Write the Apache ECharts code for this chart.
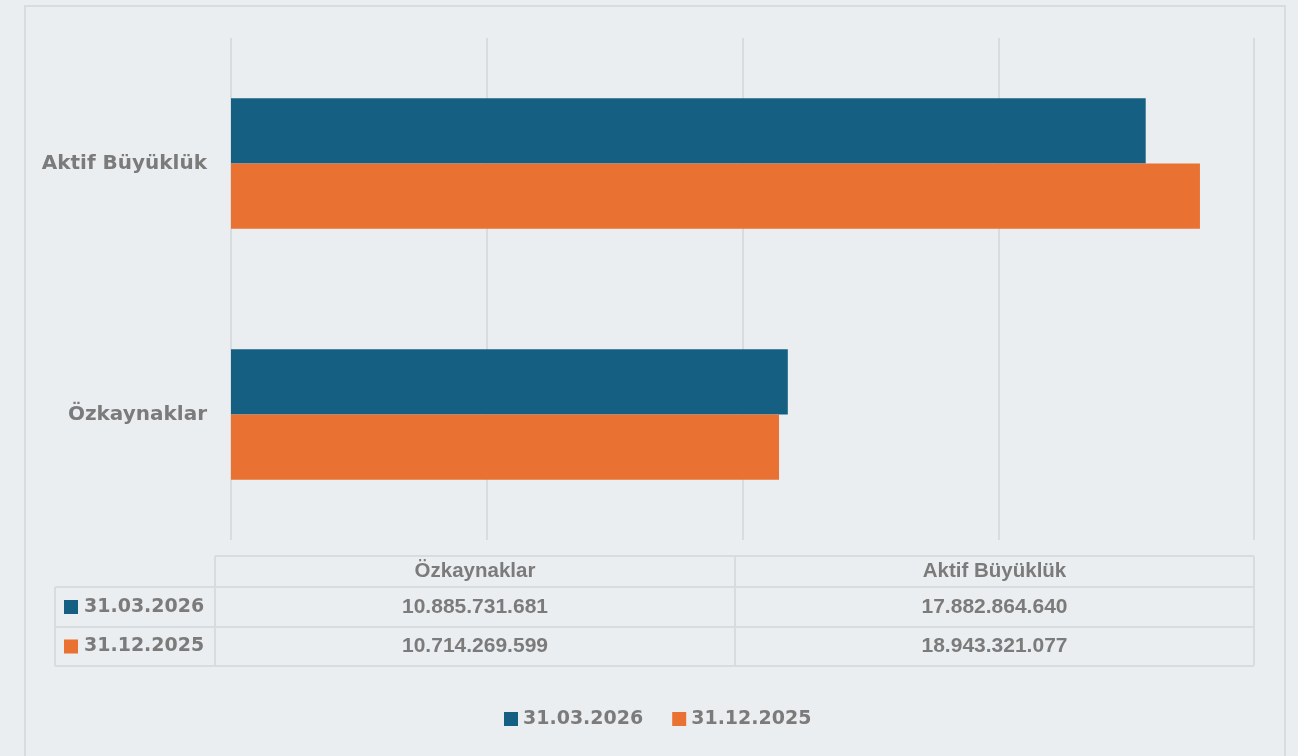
<!DOCTYPE html>
<html>
<head>
<meta charset="utf-8">
<script src="https://cdn.jsdelivr.net/npm/echarts@6/dist/echarts.min.js"></script>
<style>
  html, body { margin: 0; padding: 0; background: #ebeef0; }
  #chart { width: 1298px; height: 756px; }
</style>
</head>
<body>
<div id="chart"></div>
<script>
// categories, top to bottom
const categories = ['Aktif Büyüklük', 'Özkaynaklar'];
// table column order (as in the reference table)
const tableColumns = ['Özkaynaklar', 'Aktif Büyüklük'];
const seriesNames = ['31.03.2026', '31.12.2025'];
const values2026 = [17882864640, 10885731681];
const values2025 = [18943321077, 10714269599];
const colors = ['#156082', '#E97132'];

const textColor = '#7b7b7b';
const wideFont = '"DejaVu Sans", Verdana, sans-serif';
const tableFont = '"Liberation Sans", Arial, sans-serif';

const fmt = (v) => String(v).replace(/\B(?=(\d{3})+(?!\d))/g, '.');

const chart = echarts.init(document.getElementById('chart'));

// data table below the plot
const tbl = { x0: 55, x1: 215, x2: 735, x3: 1254, yHead: 556, yR1: 587, yR2: 627, yEnd: 666 };
const lineStyle = { stroke: '#d9dcdf', lineWidth: 2 };
const graphic = [
  // outer frame
  { type: 'rect', shape: { x: 25, y: 6, width: 1260, height: 760 }, style: { fill: null, stroke: '#d9dcdf', lineWidth: 2 }, silent: true },
  // horizontal lines
  { type: 'line', shape: { x1: tbl.x1, y1: tbl.yHead, x2: tbl.x3, y2: tbl.yHead }, style: lineStyle },
  { type: 'line', shape: { x1: tbl.x0, y1: tbl.yR1, x2: tbl.x3, y2: tbl.yR1 }, style: lineStyle },
  { type: 'line', shape: { x1: tbl.x0, y1: tbl.yR2, x2: tbl.x3, y2: tbl.yR2 }, style: lineStyle },
  { type: 'line', shape: { x1: tbl.x0, y1: tbl.yEnd, x2: tbl.x3, y2: tbl.yEnd }, style: lineStyle },
  // vertical lines
  { type: 'line', shape: { x1: tbl.x0, y1: tbl.yR1, x2: tbl.x0, y2: tbl.yEnd }, style: lineStyle },
  { type: 'line', shape: { x1: tbl.x1, y1: tbl.yHead, x2: tbl.x1, y2: tbl.yEnd }, style: lineStyle },
  { type: 'line', shape: { x1: tbl.x2, y1: tbl.yHead, x2: tbl.x2, y2: tbl.yEnd }, style: lineStyle },
  { type: 'line', shape: { x1: tbl.x3, y1: tbl.yHead, x2: tbl.x3, y2: tbl.yEnd }, style: lineStyle }
];

const colCenters = [(tbl.x1 + tbl.x2) / 2, (tbl.x2 + tbl.x3) / 2];
tableColumns.forEach((c, i) => {
  graphic.push({
    type: 'text', x: colCenters[i], y: (tbl.yHead + tbl.yR1) / 2,
    style: { text: c, fill: textColor, font: 'bold 20.5px ' + tableFont, align: 'center', verticalAlign: 'middle' }
  });
});

const rowValues = [values2026, values2025];
const rowMids = [(tbl.yR1 + tbl.yR2) / 2, (tbl.yR2 + tbl.yEnd) / 2];
seriesNames.forEach((name, r) => {
  graphic.push({
    type: 'rect', shape: { x: 64, y: rowMids[r] - 7, width: 14, height: 14 },
    style: { fill: colors[r] }
  });
  graphic.push({
    type: 'text', x: 84, y: rowMids[r],
    style: { text: name, fill: textColor, font: 'bold 19px ' + wideFont, align: 'left', verticalAlign: 'middle' }
  });
  tableColumns.forEach((c, i) => {
    const v = rowValues[r][categories.indexOf(c)];
    graphic.push({
      type: 'text', x: colCenters[i], y: rowMids[r],
      style: { text: fmt(v), fill: textColor, font: 'bold 21px ' + tableFont, align: 'center', verticalAlign: 'middle' }
    });
  });
});

const option = {
  backgroundColor: '#ebeef0',
  animation: false,
  color: colors,
  grid: { left: 231, right: 44, top: 38, bottom: 216, containLabel: false },
  legend: {
    data: seriesNames,
    top: 708,
    left: 504,
    padding: 0,
    icon: 'rect',
    itemWidth: 14,
    itemHeight: 14,
    itemGap: 29,
    textStyle: { color: textColor, fontSize: 19, lineHeight: 22, fontWeight: 'bold', fontFamily: wideFont }
  },
  xAxis: {
    type: 'value',
    min: 0,
    max: 20000000000,
    interval: 5000000000,
    axisLabel: { show: false },
    axisLine: { show: false },
    axisTick: { show: false },
    splitLine: { lineStyle: { color: '#d9dcdf', width: 2 } }
  },
  yAxis: {
    type: 'category',
    inverse: true,
    data: categories,
    axisLine: { show: false },
    axisTick: { show: false },
    axisLabel: { color: textColor, fontSize: 20, fontWeight: 'bold', fontFamily: wideFont, margin: 24 }
  },
  series: [
    { name: seriesNames[0], type: 'bar', data: values2026, barGap: '0%', barCategoryGap: '48%' },
    { name: seriesNames[1], type: 'bar', data: values2025, barGap: '0%', barCategoryGap: '48%' }
  ],
  graphic: graphic
};

chart.setOption(option);
</script>
</body>
</html>
